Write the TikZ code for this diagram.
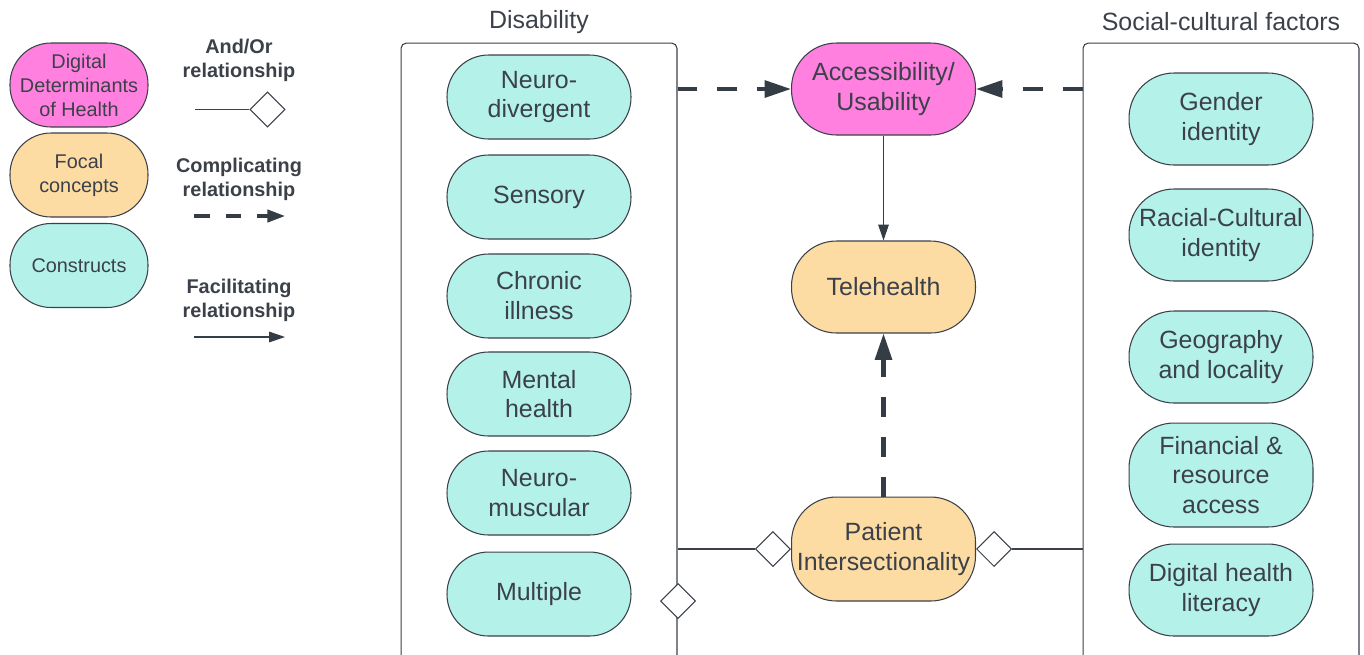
\documentclass[tikz,border=0pt]{standalone}
\usepackage{fontspec}
\setmainfont{Liberation Sans}
\usetikzlibrary{positioning,shapes.geometric,arrows.meta}

\definecolor{ddhpink}{HTML}{FF80DF}
\definecolor{focalorange}{HTML}{FDDCA3}
\definecolor{constrteal}{HTML}{B4F2E9}
\definecolor{inkgray}{HTML}{3B4049}
\definecolor{arrowgray}{HTML}{343C46}

\begin{document}
\begin{tikzpicture}[x=0.02cm,y=-0.02cm,
		pill/.style={draw=inkgray, line width=0.6pt, rounded corners=0.83cm, align=center, inner sep=0pt,
			text=inkgray, font=\fontsize{14.2}{17}\selectfont, minimum width=3.68cm, minimum height=1.68cm},
		keypill/.style={pill, font=\fontsize{11.3}{13.6}\selectfont, minimum width=2.76cm, rounded corners=0.82cm},
		keytext/.style={align=center, text=inkgray, font=\bfseries\fontsize{11.3}{13.6}\selectfont},
		title/.style={text=inkgray, font=\fontsize{14.2}{17}\selectfont},
		group/.style={draw=inkgray, line width=0.6pt, rounded corners=3pt, minimum width=5.52cm, minimum height=12.8cm},
		andor/.style={diamond, draw=inkgray, fill=white, line width=0.6pt, inner sep=0pt, minimum width=0.7cm, minimum height=0.7cm},
		comp/.style={draw=arrowgray, line width=2.3pt, dash pattern=on 11.3pt off 11.3pt, -{Triangle[length=15pt,width=9.5pt]}},
		facil/.style={draw=arrowgray, line width=0.6pt, -{Triangle[length=9pt,width=6pt]}}]
	
	\useasboundingbox[fill=white] (0,0) rectangle (1364,654);
	
	% legend
	\begin{scope}
		\node[keypill, fill=ddhpink] (kddh) at (79,85) {Digital\\Determinants\\of Health};
		\node[keypill, fill=focalorange] (kfocal) at (79,175) {Focal\\concepts};
		\node[keypill, fill=constrteal] (kconstr) at (79,265.5) {Constructs};
		
		\node[keytext] (kandor) at (239,60) {And/Or\\relationship};
		\node[andor] (kdiam) at (267.5,109.5) {};
		\coordinate (kandorstart) at (195,109.5);
		\draw[inkgray, line width=0.6pt] (kandorstart) -- (kdiam);
		
		\node[keytext] (kcomp) at (239,179) {Complicating\\relationship};
		\coordinate (kcompstart) at (194,216);
		\coordinate (kcompend) at (285,216);
		\draw[draw=arrowgray, line width=1.8pt, dash pattern=on 9pt off 9pt, -{Triangle[length=10pt,width=7pt]}] (kcompstart) -- (kcompend);
		
		\node[keytext] (kfacil) at (239,300) {Facilitating\\relationship};
		\coordinate (kfacilstart) at (194,337);
		\coordinate (kfacilend) at (285,337);
		\draw[facil] (kfacilstart) -- (kfacilend);
	\end{scope}
	
	% disability
	\begin{scope}
		\node[title] (distitle) at (539,22) {Disability};
		\node[group] (dis) at (539,363) {};
		
		\node[pill, fill=constrteal] (neurodiv) at (539,97) {Neuro-\\divergent};
		\node[pill, fill=constrteal] (sensory) at (539,197) {Sensory};
		\node[pill, fill=constrteal] (chronic) at (539,296) {Chronic\\illness};
		\node[pill, fill=constrteal] (mental) at (539,394) {Mental\\health};
		\node[pill, fill=constrteal] (neuromusc) at (539,493) {Neuro-\\muscular};
		\node[pill, fill=constrteal] (multiple) at (539,594) {Multiple};
		
		\node[andor] (dismulti) at (678,601) {};
	\end{scope}
	
	% social-cultural factors
	\begin{scope}
		\node[title] (soctitle) at (1221,22) {Social-cultural factors};
		\node[group] (soc) at (1221,363) {};
		
		\node[pill, fill=constrteal, minimum height=1.84cm, rounded corners=0.9cm] (gender) at (1221,119) {Gender\\identity};
		\node[pill, fill=constrteal, minimum height=1.84cm, rounded corners=0.9cm] (racial) at (1221,235) {Racial-Cultural\\identity};
		\node[pill, fill=constrteal, minimum height=1.84cm, rounded corners=0.9cm] (geo) at (1221,357) {Geography\\and locality};
		\node[pill, fill=constrteal, minimum height=2.08cm, rounded corners=0.9cm] (finance) at (1221,475) {Financial \&\\resource\\access};
		\node[pill, fill=constrteal, minimum height=1.84cm, rounded corners=0.9cm] (literacy) at (1221,590) {Digital health\\literacy};
	\end{scope}
	
	% focal concepts
	\node[pill, fill=ddhpink, minimum height=1.84cm, rounded corners=0.9cm] (acc) at (883.5,89) {Accessibility/\\Usability};
	\node[pill, fill=focalorange, minimum height=1.84cm, rounded corners=0.9cm] (tele) at (883.5,287) {Telehealth};
	\node[pill, fill=focalorange, minimum height=2.08cm, rounded corners=0.9cm] (pat) at (883.5,549) {Patient\\Intersectionality};
	
	\node[andor, left=0pt of pat] (patleft) {};
	\node[andor, right=0pt of pat] (patright) {};
	
	% relationships
	\draw[comp] (dis.east |- acc) -- (acc);
	\draw[comp] (soc.west |- acc) -- (acc);
	\draw[facil] (acc) -- (tele);
	\draw[comp] (pat) -- (tele);
	\draw[inkgray, line width=0.6pt] (dis.east |- pat) -- (patleft);
	\draw[inkgray, line width=0.6pt] (soc.west |- pat) -- (patright);
	
\end{tikzpicture}
\end{document}
